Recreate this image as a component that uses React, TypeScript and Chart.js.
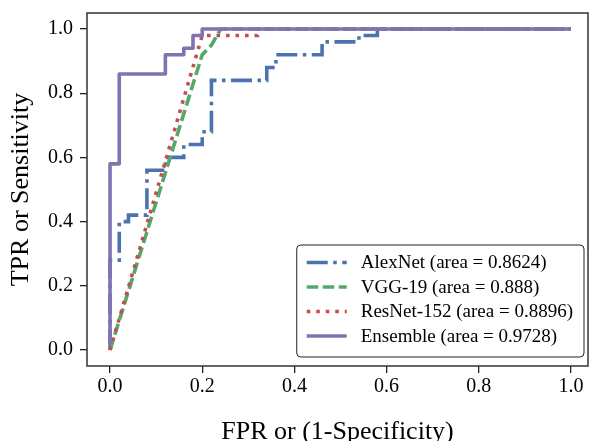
import { useEffect, useRef } from 'react';
import { Chart, registerables } from 'chart.js';

Chart.register(...registerables);

const seriesLabels = [
  'AlexNet (area = 0.8624)',
  'VGG-19 (area = 0.888)',
  'ResNet-152 (area = 0.8896)',
  'Ensemble (area = 0.9728)',
];

const alexFpr = [0, 0, 0.02, 0.02, 0.04, 0.04, 0.08, 0.08, 0.12, 0.12, 0.16, 0.16, 0.2, 0.2, 0.22, 0.22, 0.34, 0.34, 0.36, 0.36, 0.46, 0.46, 0.54, 0.54, 0.58, 0.58, 1];
const alexTpr = [0, 0.28, 0.28, 0.4, 0.4, 0.42, 0.42, 0.56, 0.56, 0.6, 0.6, 0.64, 0.64, 0.68, 0.68, 0.84, 0.84, 0.88, 0.88, 0.92, 0.92, 0.96, 0.96, 0.98, 0.98, 1, 1];

const vggFpr = [0, 0.2, 0.22, 0.24, 1];
const vggTpr = [0, 0.92, 0.95, 1, 1];

const resFpr = [0, 0.2, 0.32, 0.32, 1];
const resTpr = [0, 0.98, 0.98, 1, 1];

const ensFpr = [0, 0, 0.02, 0.02, 0.12, 0.12, 0.16, 0.16, 0.18, 0.18, 0.2, 0.2, 1];
const ensTpr = [0.02, 0.58, 0.58, 0.86, 0.86, 0.92, 0.92, 0.94, 0.94, 0.98, 0.98, 1, 1];

const xTicks = [0, 0.2, 0.4, 0.6, 0.8, 1.0];
const yTicks = [0, 0.2, 0.4, 0.6, 0.8, 1.0];

const colors = ['#4C72B0', '#55A868', '#C44E52', '#8172B2'];
const dashes = [[21, 5.5, 3.5, 5.5], [11.5, 4.5], [3.6, 5.9], []];
const LW = 3.6;
const FONT = '"Liberation Serif", "Times New Roman", serif';

function zip(xs: number[], ys: number[]) {
  return xs.map((x, i) => ({ x, y: ys[i] }));
}

const seriesData = [zip(alexFpr, alexTpr), zip(vggFpr, vggTpr), zip(resFpr, resTpr), zip(ensFpr, ensTpr)];

function roundRect(ctx: CanvasRenderingContext2D, x: number, y: number, w: number, h: number, r: number) {
  ctx.beginPath();
  ctx.moveTo(x + r, y);
  ctx.arcTo(x + w, y, x + w, y + h, r);
  ctx.arcTo(x + w, y + h, x, y + h, r);
  ctx.arcTo(x, y + h, x, y, r);
  ctx.arcTo(x, y, x + w, y, r);
  ctx.closePath();
}

const frameLegendPlugin = {
  id: 'frameLegend',
  afterDatasetsDraw(chart: any) {
    const { ctx, chartArea: a } = chart;
    ctx.save();
    ctx.setLineDash([]);
    ctx.strokeStyle = '#333333';
    ctx.lineWidth = 1.5;
    ctx.strokeRect(a.left, a.top, a.right - a.left, a.bottom - a.top);

    ctx.font = `19px ${FONT}`;
    const maxW = Math.max(...seriesLabels.map((t) => ctx.measureText(t).width));
    const padL = 10, handleW = 40, gap = 14, padR = 11, rowH = 24.5, padT = 17.5, padB = 21;
    const boxW = padL + handleW + gap + maxW + padR;
    const boxH = padT + rowH * (seriesLabels.length - 1) + padB;
    const boxR = a.right - 4;
    const boxB = a.bottom - 9;
    const bx = boxR - boxW;
    const by = boxB - boxH;
    roundRect(ctx, bx, by, boxW, boxH, 4);
    ctx.fillStyle = 'rgba(255,255,255,0.9)';
    ctx.fill();
    ctx.strokeStyle = '#222222';
    ctx.lineWidth = 1;
    ctx.stroke();

    seriesLabels.forEach((label, i) => {
      const cy = by + padT + rowH * i;
      ctx.beginPath();
      ctx.setLineDash(dashes[i]);
      ctx.lineDashOffset = 0;
      ctx.lineCap = 'butt';
      ctx.strokeStyle = colors[i];
      ctx.lineWidth = LW;
      ctx.moveTo(bx + padL, cy);
      ctx.lineTo(bx + padL + handleW, cy);
      ctx.stroke();
      ctx.setLineDash([]);
      ctx.fillStyle = '#000000';
      ctx.textBaseline = 'middle';
      ctx.textAlign = 'left';
      ctx.fillText(label, bx + padL + handleW + gap, cy + 1);
    });
    ctx.restore();
  },
};

export default function App() {
  const ref = useRef<HTMLCanvasElement | null>(null);

  useEffect(() => {
    if (!ref.current) return;
    const chart = new Chart(ref.current, {
      type: 'line',
      data: {
        datasets: seriesLabels.map((label, i) => ({
          label,
          data: seriesData[i],
          borderColor: colors[i],
          backgroundColor: colors[i],
          borderWidth: LW,
          borderDash: dashes[i],
          borderCapStyle: 'butt',
          borderJoinStyle: i === 3 ? 'round' : 'miter',
          pointRadius: 0,
          pointHoverRadius: 0,
          tension: 0,
          fill: false,
          order: 3 - i,
        })),
      },
      options: {
        animation: false,
        responsive: false,
        devicePixelRatio: 1,
        parsing: true,
        layout: { padding: { top: 13, right: 3, left: 0, bottom: 0 } },
        plugins: {
          legend: { display: false },
          tooltip: { enabled: false },
        },
        scales: {
          x: {
            type: 'linear',
            min: -0.05,
            max: 1.037,
            afterBuildTicks: (s: any) => {
              s.ticks = xTicks.map((v) => ({ value: v }));
            },
            afterFit: (s: any) => {
              s.height = 75;
              s.paddingLeft = 0;
              s.paddingRight = 0;
            },
            border: { display: false },
            grid: { display: true, drawOnChartArea: false, drawTicks: true, tickLength: 7, color: '#222222', lineWidth: 1.3 },
            ticks: {
              color: '#000000',
              font: { family: FONT, size: 20 },
              padding: 2,
              maxRotation: 0,
              autoSkip: false,
              callback: (v: any) => Number(v).toFixed(1),
            },
            title: {
              display: true,
              text: 'FPR or (1-Specificity)',
              color: '#000000',
              font: { family: FONT, size: 26 },
              padding: { top: 0, bottom: -7 },
            },
          },
          y: {
            type: 'linear',
            min: -0.05,
            max: 1.05,
            afterBuildTicks: (s: any) => {
              s.ticks = yTicks.map((v) => ({ value: v }));
            },
            afterFit: (s: any) => {
              s.width = 87;
              s.paddingTop = 0;
              s.paddingBottom = 0;
            },
            border: { display: false },
            grid: { display: true, drawOnChartArea: false, drawTicks: true, tickLength: 7, color: '#222222', lineWidth: 1.3 },
            ticks: {
              color: '#000000',
              font: { family: FONT, size: 20 },
              padding: 7,
              autoSkip: false,
              callback: (v: any) => Number(v).toFixed(1),
            },
            title: {
              display: true,
              text: 'TPR or Sensitivity',
              color: '#000000',
              font: { family: FONT, size: 26 },
              padding: { top: 6, bottom: 0 },
            },
          },
        },
      },
      plugins: [frameLegendPlugin],
    } as any);
    return () => chart.destroy();
  }, []);

  return (
    <div style={{ position: 'fixed', left: 0, top: 0, width: 591, height: 441, background: '#ffffff' }}>
      <canvas ref={ref} width={591} height={441} style={{ display: 'block', width: 591, height: 441 }} />
    </div>
  );
}
